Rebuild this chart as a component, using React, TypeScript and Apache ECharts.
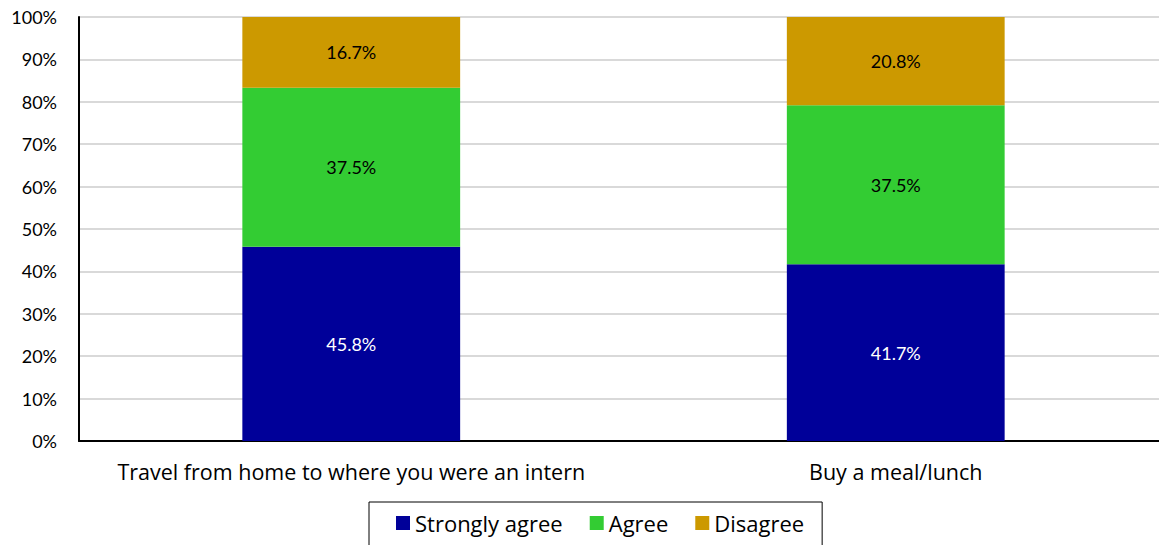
import React, { useEffect, useRef } from "react";
import * as echarts from "echarts";

const categories = ["Travel from home to where you were an intern", "Buy a meal/lunch"];
const stronglyAgree = [45.8, 41.7];
const agree = [37.5, 37.5];
const disagree = [16.7, 20.8];
const seriesNames = ["Strongly agree", "Agree", "Disagree"];
const colors = ["#000099", "#33CC33", "#CC9900"];
const labelColors = ["#ffffff", "#000000", "#000000"];

export default function App() {
  const ref = useRef<HTMLDivElement>(null);
  useEffect(() => {
    const chart = echarts.init(ref.current!, null, { renderer: "svg" });
    const data = [stronglyAgree, agree, disagree];
    chart.setOption({
      animation: false,
      textStyle: { fontFamily: "Open Sans" },
      grid: { left: 79, top: 17, right: 0, bottom: 104, containLabel: false },
      legend: {
        top: 502,
        left: 369,
        padding: [10, 18, 14, 27],
        borderColor: "#000",
        borderWidth: 1,
        itemWidth: 14,
        itemHeight: 14,
        itemGap: 27,
        icon: "rect",
        textStyle: { fontSize: 22, color: "#000", fontFamily: "Open Sans" },
        data: seriesNames,
      },
      xAxis: {
        type: "category",
        data: categories,
        axisLine: { lineStyle: { color: "#000", width: 2 } },
        axisTick: { show: false },
        axisLabel: { interval: 0, fontSize: 21.5, color: "#000", margin: 19, fontFamily: "Open Sans" },
        splitLine: { show: false },
      },
      yAxis: {
        type: "value",
        min: 0,
        max: 100,
        interval: 10,
        axisLine: { show: true, lineStyle: { color: "#000", width: 2 } },
        axisTick: { show: false },
        axisLabel: { formatter: "{value}%", fontSize: 18, color: "#000", margin: 22, fontFamily: "Lato" },
        splitLine: { show: true, lineStyle: { color: "#d9d9d9", width: 2 } },
      },
      series: seriesNames.map((name, i) => ({
        name,
        type: "bar",
        stack: "total",
        barWidth: "40%",
        data: data[i],
        itemStyle: { color: colors[i] },
        label: {
          show: true,
          position: "inside",
          formatter: (p: any) => p.value.toFixed(1) + "%",
          color: labelColors[i],
          fontSize: 18,
          fontFamily: "Lato",
        },
      })),
      graphic: [
        { type: "line", shape: { x1: 79, y1: 17, x2: 1168, y2: 17 }, style: { stroke: "#000", lineWidth: 2 } },
      ],
    });
    return () => chart.dispose();
  }, []);
  return (
    <div style={{ width: 1159, height: 545, position: "absolute", left: 0, top: 0, overflow: "hidden" }}>
      <div ref={ref} style={{ width: 1168, height: 545 }} />
    </div>
  );
}
